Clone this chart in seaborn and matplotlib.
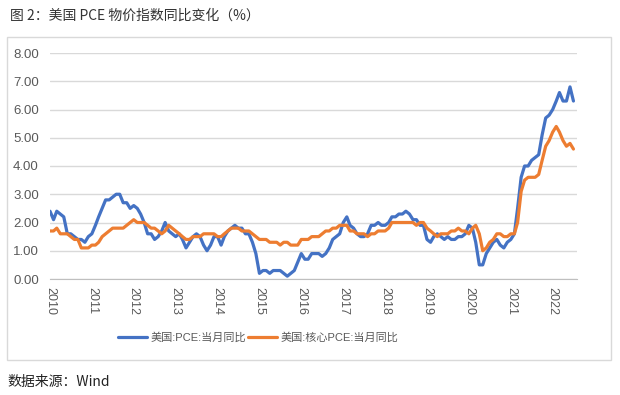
import pandas as pd
import matplotlib.pyplot as plt
import matplotlib.dates as mdates
import seaborn as sns
from matplotlib.patches import Rectangle

sns.set_style('white')
plt.rcParams['font.family'] = ['Liberation Sans', 'Noto Sans CJK SC', 'DejaVu Sans']

# 数据：2010-01 至 2022-07 月度同比 (%)
start_month = '2010-01'
pce = [
    2.4, 2.1, 2.4, 2.3, 2.2, 1.6, 1.6, 1.5, 1.4, 1.4, 1.3, 1.5,   # 2010
    1.6, 1.9, 2.2, 2.5, 2.8, 2.8, 2.9, 3.0, 3.0, 2.7, 2.7, 2.5,   # 2011
    2.6, 2.5, 2.3, 2.0, 1.6, 1.6, 1.4, 1.5, 1.7, 2.0, 1.7, 1.6,   # 2012
    1.5, 1.6, 1.4, 1.1, 1.3, 1.5, 1.6, 1.5, 1.2, 1.0, 1.2, 1.5,   # 2013
    1.5, 1.2, 1.5, 1.7, 1.8, 1.9, 1.8, 1.8, 1.6, 1.6, 1.3, 0.9,   # 2014
    0.2, 0.3, 0.3, 0.2, 0.3, 0.3, 0.3, 0.2, 0.1, 0.2, 0.3, 0.6,   # 2015
    0.9, 0.7, 0.7, 0.9, 0.9, 0.9, 0.8, 0.9, 1.1, 1.4, 1.5, 1.6,   # 2016
    2.0, 2.2, 1.9, 1.8, 1.6, 1.5, 1.5, 1.6, 1.9, 1.9, 2.0, 1.9,   # 2017
    1.9, 2.0, 2.2, 2.2, 2.3, 2.3, 2.4, 2.3, 2.1, 2.1, 1.9, 1.9,   # 2018
    1.4, 1.3, 1.5, 1.6, 1.5, 1.4, 1.5, 1.4, 1.4, 1.5, 1.5, 1.6,   # 2019
    1.9, 1.8, 1.3, 0.5, 0.5, 0.9, 1.1, 1.3, 1.4, 1.2, 1.1, 1.3,   # 2020
    1.4, 1.6, 2.5, 3.6, 4.0, 4.0, 4.2, 4.3, 4.4, 5.1, 5.7, 5.8,   # 2021
    6.0, 6.3, 6.6, 6.3, 6.3, 6.8, 6.3,                            # 2022
]
core_pce = [
    1.7, 1.7, 1.8, 1.6, 1.6, 1.6, 1.5, 1.4, 1.4, 1.1, 1.1, 1.1,
    1.2, 1.2, 1.3, 1.5, 1.6, 1.7, 1.8, 1.8, 1.8, 1.8, 1.9, 2.0,
    2.1, 2.0, 2.0, 2.0, 1.9, 1.8, 1.8, 1.7, 1.6, 1.7, 1.9, 1.8,
    1.7, 1.6, 1.5, 1.4, 1.4, 1.5, 1.5, 1.5, 1.6, 1.6, 1.6, 1.6,
    1.5, 1.5, 1.6, 1.7, 1.8, 1.8, 1.8, 1.7, 1.7, 1.7, 1.6, 1.5,
    1.4, 1.4, 1.4, 1.3, 1.3, 1.3, 1.2, 1.3, 1.3, 1.2, 1.2, 1.2,
    1.4, 1.4, 1.4, 1.5, 1.5, 1.5, 1.6, 1.7, 1.7, 1.8, 1.8, 1.9,
    1.9, 1.9, 1.7, 1.7, 1.6, 1.6, 1.6, 1.5, 1.6, 1.6, 1.7, 1.7,
    1.7, 1.8, 2.0, 2.0, 2.0, 2.0, 2.0, 2.0, 2.0, 1.9, 2.0, 2.0,
    1.8, 1.7, 1.6, 1.5, 1.6, 1.6, 1.6, 1.7, 1.7, 1.8, 1.7, 1.7,
    1.6, 1.8, 1.9, 1.6, 1.0, 1.1, 1.3, 1.4, 1.6, 1.6, 1.5, 1.5,
    1.6, 1.6, 2.0, 3.1, 3.5, 3.6, 3.6, 3.6, 3.7, 4.2, 4.7, 4.9,
    5.2, 5.4, 5.2, 4.9, 4.7, 4.8, 4.6,
]
series_names = ['美国:PCE:当月同比', '美国:核心PCE:当月同比']
colors = ['#4472C4', '#ED7D31']
y_ticks = [0, 1, 2, 3, 4, 5, 6, 7, 8]

dates = pd.date_range(start_month, periods=len(pce), freq='MS')
df = pd.concat([
    pd.DataFrame({'date': dates, 'value': pce, 'series': series_names[0]}),
    pd.DataFrame({'date': dates, 'value': core_pce, 'series': series_names[1]}),
])

fig = plt.figure(figsize=(6.2, 3.95), dpi=100)
ax = fig.add_axes([50 / 620, 1 - 279 / 395, 527 / 620, 226 / 395])

# 外框
fig.patches.append(Rectangle((7 / 620, 1 - 360 / 395), 604 / 620, 323 / 395,
                             transform=fig.transFigure, fill=False,
                             edgecolor='#d9d9d9', linewidth=1, zorder=0))

sns.lineplot(data=df, x='date', y='value', hue='series', palette=colors,
             linewidth=2.3, ax=ax)

ax.set_ylim(0, 8)
ax.set_yticks(y_ticks)
ax.set_yticklabels([f'{v:.2f}' for v in y_ticks])
ax.set_xlim(dates[0], pd.Timestamp('2022-08-01'))
ax.xaxis.set_major_locator(mdates.YearLocator())
ax.xaxis.set_major_formatter(mdates.DateFormatter('%Y'))
ax.grid(axis='y', color='#d9d9d9', linewidth=1)
ax.set_axisbelow(True)
for s in ['top', 'right', 'left']:
    ax.spines[s].set_visible(False)
ax.spines['bottom'].set_color('#bfbfbf')
ax.tick_params(axis='x', rotation=270, colors='#595959', labelsize=9,
               length=4, width=1, direction='out', color='#bfbfbf', pad=2)
ax.tick_params(axis='y', colors='#595959', labelsize=9.5, length=0, pad=8)
ax.set_xlabel('')
ax.set_ylabel('')

ax.legend(loc='center', bbox_to_anchor=(258 / 620, 1 - 338 / 395),
          bbox_transform=fig.transFigure, ncol=2, frameon=False,
          fontsize=8, handlelength=2.6, handletextpad=0.3,
          columnspacing=0.2, labelcolor='#595959')

fig.text(10 / 620, 1 - 16 / 395, '图 2：美国 PCE 物价指数同比变化（%）',
         fontsize=10, color='#333333', va='center', ha='left',
         family=['Noto Sans CJK SC', 'DejaVu Sans'])
fig.text(7 / 620, 1 - 382 / 395, '数据来源：Wind', fontsize=10,
         color='#222222', va='center', ha='left',
         family=['Noto Sans CJK SC', 'DejaVu Sans'])

fig.savefig('out.png', dpi=100)
